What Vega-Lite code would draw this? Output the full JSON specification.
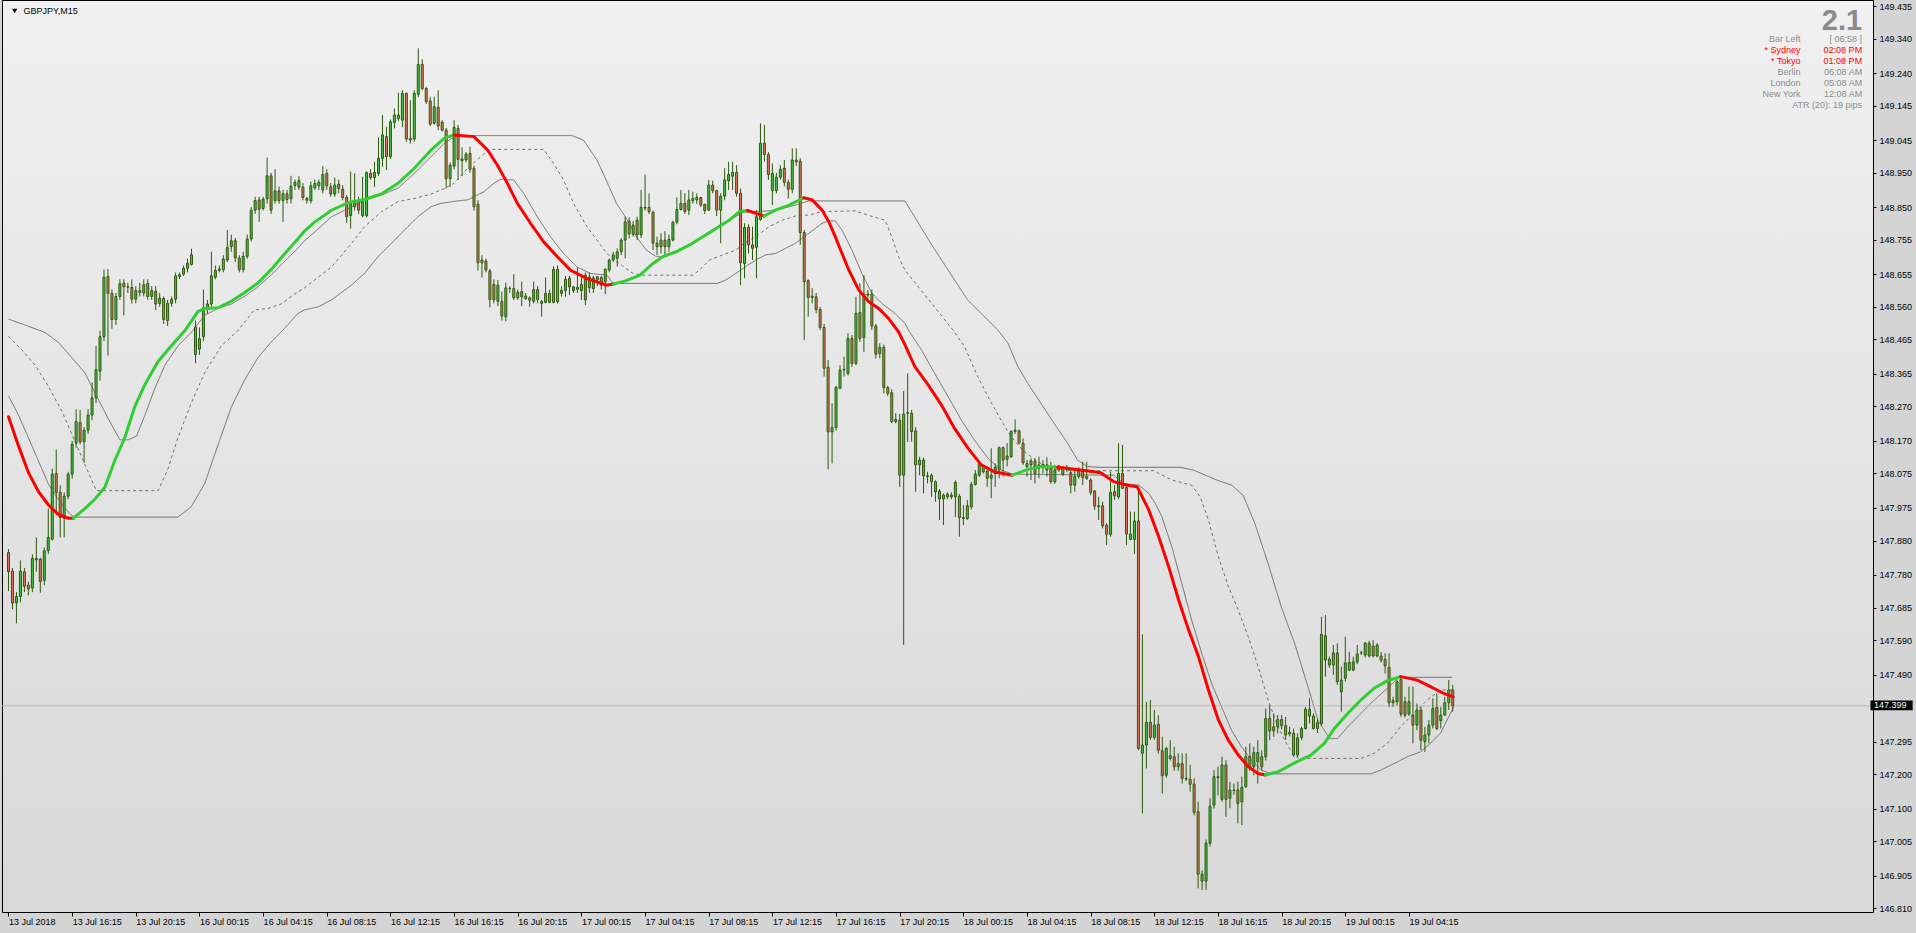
{
"$schema":"https://vega.github.io/schema/vega-lite/v6.json",
"width":1871,"height":912,"autosize":"none",
"padding":{"left":2,"top":0,"right":43,"bottom":21},
"background":"#d4d4d4",
"config":{
"view":{"fill":{"gradient":"linear","x1":0,"y1":0,"x2":0,"y2":1,"stops":[{"offset":0,"color":"#f0f0f0"},{"offset":1,"color":"#d8d8d8"}]},"stroke":"#000000","strokeWidth":1},
"font":"Liberation Sans",
"axis":{"title":null,"grid":false,"domain":false,"labelFont":"Liberation Sans","labelFontSize":9,"labelColor":"#000000","tickColor":"#000000","tickWidth":1,"labelOverlap":false,"labelBound":false,"labelFlush":false}
},
"resolve":{"axis":{"x":"independent","y":"independent"}},
"datasets":{
"candles":[
{"i":0,"o":147.845,"h":147.855,"l":147.733,"c":147.789},
{"i":1,"o":147.791,"h":147.800,"l":147.680,"c":147.698},
{"i":2,"o":147.698,"h":147.730,"l":147.639,"c":147.717},
{"i":3,"o":147.717,"h":147.822,"l":147.700,"c":147.791},
{"i":4,"o":147.789,"h":147.800,"l":147.730,"c":147.747},
{"i":5,"o":147.750,"h":147.760,"l":147.720,"c":147.739},
{"i":6,"o":147.742,"h":147.840,"l":147.730,"c":147.828},
{"i":7,"o":147.824,"h":147.889,"l":147.789,"c":147.828},
{"i":8,"o":147.826,"h":147.830,"l":147.728,"c":147.761},
{"i":9,"o":147.764,"h":147.860,"l":147.750,"c":147.850},
{"i":10,"o":147.850,"h":147.973,"l":147.840,"c":147.889},
{"i":11,"o":147.884,"h":148.089,"l":147.880,"c":148.073},
{"i":12,"o":148.075,"h":148.145,"l":147.956,"c":148.020},
{"i":13,"o":148.020,"h":148.040,"l":147.889,"c":147.947},
{"i":14,"o":147.945,"h":148.020,"l":147.889,"c":148.009},
{"i":15,"o":148.009,"h":148.080,"l":148.000,"c":148.073},
{"i":16,"o":148.073,"h":148.170,"l":148.060,"c":148.160},
{"i":17,"o":148.164,"h":148.262,"l":148.150,"c":148.226},
{"i":18,"o":148.223,"h":148.260,"l":148.160,"c":148.167},
{"i":19,"o":148.167,"h":148.210,"l":148.106,"c":148.201},
{"i":20,"o":148.201,"h":148.262,"l":148.190,"c":148.245},
{"i":21,"o":148.245,"h":148.340,"l":148.230,"c":148.295},
{"i":22,"o":148.295,"h":148.446,"l":148.280,"c":148.377},
{"i":23,"o":148.373,"h":148.490,"l":148.345,"c":148.473},
{"i":24,"o":148.473,"h":148.668,"l":148.460,"c":148.646},
{"i":25,"o":148.648,"h":148.670,"l":148.418,"c":148.599},
{"i":26,"o":148.599,"h":148.610,"l":148.496,"c":148.523},
{"i":27,"o":148.523,"h":148.600,"l":148.507,"c":148.590},
{"i":28,"o":148.590,"h":148.640,"l":148.580,"c":148.627},
{"i":29,"o":148.629,"h":148.640,"l":148.535,"c":148.618},
{"i":30,"o":148.618,"h":148.630,"l":148.600,"c":148.617},
{"i":31,"o":148.616,"h":148.640,"l":148.570,"c":148.582},
{"i":32,"o":148.582,"h":148.620,"l":148.570,"c":148.607},
{"i":33,"o":148.602,"h":148.630,"l":148.590,"c":148.607},
{"i":34,"o":148.600,"h":148.640,"l":148.590,"c":148.624},
{"i":35,"o":148.628,"h":148.640,"l":148.580,"c":148.590},
{"i":36,"o":148.590,"h":148.620,"l":148.580,"c":148.607},
{"i":37,"o":148.605,"h":148.620,"l":148.550,"c":148.568},
{"i":38,"o":148.570,"h":148.600,"l":148.560,"c":148.585},
{"i":39,"o":148.584,"h":148.590,"l":148.510,"c":148.523},
{"i":40,"o":148.520,"h":148.580,"l":148.504,"c":148.570},
{"i":41,"o":148.570,"h":148.590,"l":148.560,"c":148.582},
{"i":42,"o":148.582,"h":148.660,"l":148.570,"c":148.650},
{"i":43,"o":148.648,"h":148.660,"l":148.640,"c":148.653},
{"i":44,"o":148.655,"h":148.680,"l":148.650,"c":148.672},
{"i":45,"o":148.672,"h":148.700,"l":148.660,"c":148.687},
{"i":46,"o":148.683,"h":148.729,"l":148.680,"c":148.711},
{"i":47,"o":148.501,"h":148.520,"l":148.396,"c":148.421},
{"i":48,"o":148.437,"h":148.500,"l":148.420,"c":148.467},
{"i":49,"o":148.473,"h":148.610,"l":148.460,"c":148.557},
{"i":50,"o":148.557,"h":148.580,"l":148.540,"c":148.568},
{"i":51,"o":148.568,"h":148.720,"l":148.560,"c":148.650},
{"i":52,"o":148.646,"h":148.680,"l":148.640,"c":148.666},
{"i":53,"o":148.666,"h":148.680,"l":148.660,"c":148.670},
{"i":54,"o":148.668,"h":148.710,"l":148.660,"c":148.699},
{"i":55,"o":148.696,"h":148.783,"l":148.690,"c":148.732},
{"i":56,"o":148.735,"h":148.770,"l":148.720,"c":148.752},
{"i":57,"o":148.752,"h":148.760,"l":148.690,"c":148.702},
{"i":58,"o":148.702,"h":148.710,"l":148.660,"c":148.668},
{"i":59,"o":148.668,"h":148.720,"l":148.660,"c":148.707},
{"i":60,"o":148.707,"h":148.770,"l":148.700,"c":148.757},
{"i":61,"o":148.757,"h":148.850,"l":148.750,"c":148.841},
{"i":62,"o":148.841,"h":148.880,"l":148.830,"c":148.869},
{"i":63,"o":148.871,"h":148.880,"l":148.807,"c":148.844},
{"i":64,"o":148.846,"h":148.880,"l":148.840,"c":148.873},
{"i":65,"o":148.874,"h":148.994,"l":148.860,"c":148.941},
{"i":66,"o":148.941,"h":148.950,"l":148.830,"c":148.841},
{"i":67,"o":148.869,"h":148.960,"l":148.860,"c":148.897},
{"i":68,"o":148.897,"h":148.910,"l":148.860,"c":148.869},
{"i":69,"o":148.869,"h":148.900,"l":148.807,"c":148.889},
{"i":70,"o":148.889,"h":148.900,"l":148.860,"c":148.872},
{"i":71,"o":148.874,"h":148.941,"l":148.860,"c":148.911},
{"i":72,"o":148.913,"h":148.930,"l":148.900,"c":148.922},
{"i":73,"o":148.908,"h":148.940,"l":148.900,"c":148.927},
{"i":74,"o":148.908,"h":148.920,"l":148.870,"c":148.878},
{"i":75,"o":148.875,"h":148.880,"l":148.860,"c":148.870},
{"i":76,"o":148.868,"h":148.924,"l":148.860,"c":148.912},
{"i":77,"o":148.906,"h":148.930,"l":148.900,"c":148.919},
{"i":78,"o":148.912,"h":148.930,"l":148.900,"c":148.922},
{"i":79,"o":148.900,"h":148.969,"l":148.890,"c":148.945},
{"i":80,"o":148.948,"h":148.960,"l":148.900,"c":148.912},
{"i":81,"o":148.909,"h":148.920,"l":148.880,"c":148.888},
{"i":82,"o":148.888,"h":148.936,"l":148.880,"c":148.914},
{"i":83,"o":148.917,"h":148.930,"l":148.890,"c":148.904},
{"i":84,"o":148.902,"h":148.914,"l":148.870,"c":148.878},
{"i":85,"o":148.878,"h":148.885,"l":148.804,"c":148.822},
{"i":86,"o":148.825,"h":148.953,"l":148.788,"c":148.861},
{"i":87,"o":148.851,"h":148.948,"l":148.840,"c":148.869},
{"i":88,"o":148.866,"h":148.880,"l":148.830,"c":148.841},
{"i":89,"o":148.825,"h":148.938,"l":148.820,"c":148.866},
{"i":90,"o":148.825,"h":148.953,"l":148.820,"c":148.951},
{"i":91,"o":148.948,"h":148.960,"l":148.930,"c":148.936},
{"i":92,"o":148.936,"h":148.982,"l":148.909,"c":148.951},
{"i":93,"o":148.948,"h":149.053,"l":148.940,"c":148.992},
{"i":94,"o":148.992,"h":149.118,"l":148.967,"c":149.060},
{"i":95,"o":149.055,"h":149.084,"l":148.958,"c":148.997},
{"i":96,"o":148.997,"h":149.105,"l":148.990,"c":149.098},
{"i":97,"o":149.096,"h":149.137,"l":149.079,"c":149.118},
{"i":98,"o":149.108,"h":149.183,"l":149.100,"c":149.118},
{"i":99,"o":149.103,"h":149.190,"l":149.082,"c":149.181},
{"i":100,"o":149.181,"h":149.183,"l":149.040,"c":149.048},
{"i":101,"o":149.050,"h":149.161,"l":149.035,"c":149.045},
{"i":102,"o":149.048,"h":149.190,"l":149.040,"c":149.181},
{"i":103,"o":149.178,"h":149.312,"l":149.170,"c":149.265},
{"i":104,"o":149.265,"h":149.280,"l":149.190,"c":149.195},
{"i":105,"o":149.195,"h":149.200,"l":149.150,"c":149.157},
{"i":106,"o":149.159,"h":149.171,"l":149.086,"c":149.091},
{"i":107,"o":149.094,"h":149.171,"l":149.090,"c":149.142},
{"i":108,"o":149.140,"h":149.190,"l":149.074,"c":149.086},
{"i":109,"o":149.097,"h":149.103,"l":149.070,"c":149.074},
{"i":110,"o":149.074,"h":149.080,"l":148.904,"c":148.933},
{"i":111,"o":148.933,"h":148.980,"l":148.909,"c":148.972},
{"i":112,"o":148.969,"h":149.103,"l":148.960,"c":149.082},
{"i":113,"o":149.079,"h":149.089,"l":148.929,"c":148.989},
{"i":114,"o":148.990,"h":149.024,"l":148.940,"c":148.985},
{"i":115,"o":148.987,"h":149.010,"l":148.980,"c":149.004},
{"i":116,"o":149.006,"h":149.026,"l":148.950,"c":148.960},
{"i":117,"o":148.963,"h":148.970,"l":148.840,"c":148.851},
{"i":118,"o":148.858,"h":148.870,"l":148.665,"c":148.688},
{"i":119,"o":148.688,"h":148.710,"l":148.645,"c":148.696},
{"i":120,"o":148.693,"h":148.700,"l":148.660,"c":148.667},
{"i":121,"o":148.664,"h":148.670,"l":148.558,"c":148.581},
{"i":122,"o":148.625,"h":148.640,"l":148.570,"c":148.580},
{"i":123,"o":148.576,"h":148.638,"l":148.562,"c":148.623},
{"i":124,"o":148.576,"h":148.604,"l":148.520,"c":148.533},
{"i":125,"o":148.531,"h":148.630,"l":148.518,"c":148.615},
{"i":126,"o":148.613,"h":148.620,"l":148.600,"c":148.613},
{"i":127,"o":148.613,"h":148.655,"l":148.580,"c":148.586},
{"i":128,"o":148.586,"h":148.610,"l":148.580,"c":148.602},
{"i":129,"o":148.604,"h":148.633,"l":148.562,"c":148.589},
{"i":130,"o":148.584,"h":148.600,"l":148.580,"c":148.591},
{"i":131,"o":148.586,"h":148.590,"l":148.560,"c":148.579},
{"i":132,"o":148.576,"h":148.633,"l":148.570,"c":148.610},
{"i":133,"o":148.610,"h":148.620,"l":148.570,"c":148.581},
{"i":134,"o":148.570,"h":148.580,"l":148.531,"c":148.575},
{"i":135,"o":148.573,"h":148.645,"l":148.570,"c":148.599},
{"i":136,"o":148.599,"h":148.610,"l":148.570,"c":148.573},
{"i":137,"o":148.573,"h":148.678,"l":148.570,"c":148.669},
{"i":138,"o":148.669,"h":148.680,"l":148.570,"c":148.575},
{"i":139,"o":148.599,"h":148.620,"l":148.590,"c":148.608},
{"i":140,"o":148.607,"h":148.650,"l":148.589,"c":148.640},
{"i":141,"o":148.643,"h":148.650,"l":148.594,"c":148.618},
{"i":142,"o":148.618,"h":148.620,"l":148.600,"c":148.607},
{"i":143,"o":148.611,"h":148.674,"l":148.600,"c":148.616},
{"i":144,"o":148.607,"h":148.647,"l":148.580,"c":148.625},
{"i":145,"o":148.652,"h":148.660,"l":148.565,"c":148.580},
{"i":146,"o":148.616,"h":148.660,"l":148.600,"c":148.647},
{"i":147,"o":148.613,"h":148.650,"l":148.600,"c":148.644},
{"i":148,"o":148.647,"h":148.650,"l":148.620,"c":148.638},
{"i":149,"o":148.645,"h":148.650,"l":148.610,"c":148.623},
{"i":150,"o":148.633,"h":148.672,"l":148.597,"c":148.669},
{"i":151,"o":148.667,"h":148.700,"l":148.660,"c":148.696},
{"i":152,"o":148.696,"h":148.720,"l":148.690,"c":148.711},
{"i":153,"o":148.701,"h":148.730,"l":148.677,"c":148.720},
{"i":154,"o":148.720,"h":148.760,"l":148.710,"c":148.754},
{"i":155,"o":148.754,"h":148.822,"l":148.701,"c":148.807},
{"i":156,"o":148.809,"h":148.820,"l":148.759,"c":148.772},
{"i":157,"o":148.771,"h":148.810,"l":148.764,"c":148.798},
{"i":158,"o":148.812,"h":148.822,"l":148.754,"c":148.769},
{"i":159,"o":148.769,"h":148.900,"l":148.760,"c":148.849},
{"i":160,"o":148.847,"h":148.945,"l":148.840,"c":148.849},
{"i":161,"o":148.849,"h":148.890,"l":148.830,"c":148.837},
{"i":162,"o":148.835,"h":148.840,"l":148.725,"c":148.745},
{"i":163,"o":148.745,"h":148.764,"l":148.710,"c":148.735},
{"i":164,"o":148.735,"h":148.774,"l":148.715,"c":148.754},
{"i":165,"o":148.754,"h":148.780,"l":148.706,"c":148.735},
{"i":166,"o":148.735,"h":148.770,"l":148.720,"c":148.756},
{"i":167,"o":148.754,"h":148.810,"l":148.750,"c":148.806},
{"i":168,"o":148.806,"h":148.878,"l":148.800,"c":148.843},
{"i":169,"o":148.843,"h":148.900,"l":148.840,"c":148.861},
{"i":170,"o":148.861,"h":148.890,"l":148.830,"c":148.837},
{"i":171,"o":148.841,"h":148.900,"l":148.827,"c":148.871},
{"i":172,"o":148.869,"h":148.895,"l":148.860,"c":148.875},
{"i":173,"o":148.871,"h":148.890,"l":148.859,"c":148.878},
{"i":174,"o":148.878,"h":148.880,"l":148.850,"c":148.856},
{"i":175,"o":148.858,"h":148.860,"l":148.830,"c":148.840},
{"i":176,"o":148.841,"h":148.929,"l":148.840,"c":148.914},
{"i":177,"o":148.914,"h":148.927,"l":148.890,"c":148.898},
{"i":178,"o":148.898,"h":148.900,"l":148.824,"c":148.841},
{"i":179,"o":148.841,"h":148.890,"l":148.745,"c":148.882},
{"i":180,"o":148.882,"h":148.963,"l":148.870,"c":148.929},
{"i":181,"o":148.927,"h":148.982,"l":148.900,"c":148.945},
{"i":182,"o":148.940,"h":148.982,"l":148.900,"c":148.951},
{"i":183,"o":148.951,"h":148.972,"l":148.880,"c":148.890},
{"i":184,"o":148.890,"h":148.904,"l":148.623,"c":148.688},
{"i":185,"o":148.686,"h":148.803,"l":148.643,"c":148.791},
{"i":186,"o":148.791,"h":148.800,"l":148.715,"c":148.740},
{"i":187,"o":148.740,"h":148.793,"l":148.696,"c":148.730},
{"i":188,"o":148.733,"h":148.841,"l":148.643,"c":148.822},
{"i":189,"o":148.814,"h":149.094,"l":148.810,"c":149.036},
{"i":190,"o":149.036,"h":149.089,"l":148.982,"c":149.003},
{"i":191,"o":149.003,"h":149.010,"l":148.929,"c":148.945},
{"i":192,"o":148.898,"h":148.977,"l":148.856,"c":148.948},
{"i":193,"o":148.898,"h":148.950,"l":148.890,"c":148.937},
{"i":194,"o":148.937,"h":148.972,"l":148.930,"c":148.960},
{"i":195,"o":148.963,"h":148.987,"l":148.910,"c":148.922},
{"i":196,"o":148.922,"h":148.930,"l":148.875,"c":148.902},
{"i":197,"o":148.902,"h":149.021,"l":148.890,"c":148.987},
{"i":198,"o":148.987,"h":149.021,"l":148.970,"c":148.982},
{"i":199,"o":148.984,"h":148.992,"l":148.740,"c":148.776},
{"i":200,"o":148.776,"h":148.783,"l":148.463,"c":148.633},
{"i":201,"o":148.636,"h":148.640,"l":148.531,"c":148.587},
{"i":202,"o":148.591,"h":148.614,"l":148.570,"c":148.587},
{"i":203,"o":148.589,"h":148.600,"l":148.541,"c":148.552},
{"i":204,"o":148.552,"h":148.560,"l":148.492,"c":148.500},
{"i":205,"o":148.500,"h":148.510,"l":148.357,"c":148.381},
{"i":206,"o":148.384,"h":148.405,"l":148.087,"c":148.196},
{"i":207,"o":148.196,"h":148.279,"l":148.104,"c":148.209},
{"i":208,"o":148.209,"h":148.330,"l":148.200,"c":148.325},
{"i":209,"o":148.323,"h":148.390,"l":148.320,"c":148.376},
{"i":210,"o":148.376,"h":148.415,"l":148.357,"c":148.378},
{"i":211,"o":148.366,"h":148.483,"l":148.360,"c":148.468},
{"i":212,"o":148.468,"h":148.478,"l":148.385,"c":148.395},
{"i":213,"o":148.395,"h":148.589,"l":148.390,"c":148.541},
{"i":214,"o":148.543,"h":148.628,"l":148.458,"c":148.468},
{"i":215,"o":148.470,"h":148.652,"l":148.429,"c":148.597},
{"i":216,"o":148.597,"h":148.609,"l":148.584,"c":148.594},
{"i":217,"o":148.597,"h":148.610,"l":148.492,"c":148.504},
{"i":218,"o":148.504,"h":148.510,"l":148.410,"c":148.422},
{"i":219,"o":148.424,"h":148.454,"l":148.410,"c":148.442},
{"i":220,"o":148.442,"h":148.450,"l":148.308,"c":148.325},
{"i":221,"o":148.325,"h":148.330,"l":148.300,"c":148.308},
{"i":222,"o":148.310,"h":148.320,"l":148.221,"c":148.226},
{"i":223,"o":148.226,"h":148.250,"l":148.221,"c":148.232},
{"i":224,"o":148.230,"h":148.248,"l":148.036,"c":148.070},
{"i":225,"o":148.070,"h":148.315,"l":147.576,"c":148.248},
{"i":226,"o":148.250,"h":148.366,"l":148.167,"c":148.252},
{"i":227,"o":148.250,"h":148.260,"l":148.167,"c":148.197},
{"i":228,"o":148.199,"h":148.210,"l":148.022,"c":148.100},
{"i":229,"o":148.100,"h":148.124,"l":148.070,"c":148.114},
{"i":230,"o":148.114,"h":148.121,"l":148.017,"c":148.068},
{"i":231,"o":148.068,"h":148.080,"l":148.046,"c":148.066},
{"i":232,"o":148.070,"h":148.075,"l":148.007,"c":148.051},
{"i":233,"o":148.051,"h":148.055,"l":147.993,"c":148.022},
{"i":234,"o":148.024,"h":148.030,"l":147.940,"c":148.001},
{"i":235,"o":148.001,"h":148.017,"l":147.925,"c":148.012},
{"i":236,"o":148.007,"h":148.020,"l":148.000,"c":148.015},
{"i":237,"o":148.007,"h":148.020,"l":148.000,"c":148.012},
{"i":238,"o":148.007,"h":148.055,"l":147.949,"c":148.049},
{"i":239,"o":148.009,"h":148.015,"l":147.891,"c":147.947},
{"i":240,"o":147.947,"h":147.983,"l":147.925,"c":147.944},
{"i":241,"o":147.944,"h":147.998,"l":147.940,"c":147.981},
{"i":242,"o":147.978,"h":148.050,"l":147.970,"c":148.043},
{"i":243,"o":148.043,"h":148.085,"l":148.040,"c":148.073},
{"i":244,"o":148.070,"h":148.110,"l":148.065,"c":148.104},
{"i":245,"o":148.080,"h":148.100,"l":148.075,"c":148.095},
{"i":246,"o":148.082,"h":148.090,"l":148.036,"c":148.061},
{"i":247,"o":148.061,"h":148.148,"l":148.003,"c":148.070},
{"i":248,"o":148.075,"h":148.104,"l":148.036,"c":148.093},
{"i":249,"o":148.085,"h":148.153,"l":148.061,"c":148.150},
{"i":250,"o":148.150,"h":148.153,"l":148.066,"c":148.114},
{"i":251,"o":148.116,"h":148.163,"l":148.095,"c":148.126},
{"i":252,"o":148.124,"h":148.201,"l":148.120,"c":148.197},
{"i":253,"o":148.197,"h":148.232,"l":148.190,"c":148.201},
{"i":254,"o":148.199,"h":148.203,"l":148.160,"c":148.164},
{"i":255,"o":148.163,"h":148.177,"l":148.100,"c":148.106},
{"i":256,"o":148.095,"h":148.114,"l":148.066,"c":148.104},
{"i":257,"o":148.100,"h":148.119,"l":148.056,"c":148.112},
{"i":258,"o":148.111,"h":148.119,"l":148.046,"c":148.075},
{"i":259,"o":148.090,"h":148.124,"l":148.061,"c":148.100},
{"i":260,"o":148.095,"h":148.114,"l":148.075,"c":148.101},
{"i":261,"o":148.100,"h":148.122,"l":148.066,"c":148.085},
{"i":262,"o":148.090,"h":148.109,"l":148.045,"c":148.051},
{"i":263,"o":148.051,"h":148.100,"l":148.045,"c":148.085},
{"i":264,"o":148.097,"h":148.100,"l":148.080,"c":148.085},
{"i":265,"o":148.073,"h":148.097,"l":148.068,"c":148.093},
{"i":266,"o":148.087,"h":148.100,"l":148.080,"c":148.093},
{"i":267,"o":148.077,"h":148.085,"l":148.017,"c":148.041},
{"i":268,"o":148.041,"h":148.085,"l":148.022,"c":148.066},
{"i":269,"o":148.066,"h":148.093,"l":148.060,"c":148.083},
{"i":270,"o":148.083,"h":148.109,"l":148.041,"c":148.063},
{"i":271,"o":148.066,"h":148.109,"l":148.056,"c":148.061},
{"i":272,"o":148.056,"h":148.061,"l":148.012,"c":148.020},
{"i":273,"o":148.024,"h":148.027,"l":147.969,"c":147.980},
{"i":274,"o":147.981,"h":148.007,"l":147.940,"c":147.978},
{"i":275,"o":147.981,"h":147.993,"l":147.915,"c":147.923},
{"i":276,"o":147.925,"h":147.930,"l":147.867,"c":147.898},
{"i":277,"o":147.898,"h":148.080,"l":147.891,"c":148.020},
{"i":278,"o":148.022,"h":148.041,"l":147.998,"c":148.010},
{"i":279,"o":148.007,"h":148.163,"l":148.000,"c":148.075},
{"i":280,"o":148.075,"h":148.158,"l":148.030,"c":148.032},
{"i":281,"o":148.034,"h":148.046,"l":147.867,"c":147.899},
{"i":282,"o":147.883,"h":147.964,"l":147.881,"c":147.899},
{"i":283,"o":147.883,"h":147.964,"l":147.841,"c":147.937},
{"i":284,"o":147.937,"h":148.027,"l":147.270,"c":147.275},
{"i":285,"o":147.261,"h":147.607,"l":147.086,"c":147.285},
{"i":286,"o":147.285,"h":147.411,"l":147.217,"c":147.351},
{"i":287,"o":147.351,"h":147.416,"l":147.300,"c":147.307},
{"i":288,"o":147.307,"h":147.387,"l":147.300,"c":147.343},
{"i":289,"o":147.345,"h":147.372,"l":147.260,"c":147.270},
{"i":290,"o":147.268,"h":147.309,"l":147.144,"c":147.196},
{"i":291,"o":147.197,"h":147.280,"l":147.190,"c":147.275},
{"i":292,"o":147.246,"h":147.299,"l":147.240,"c":147.254},
{"i":293,"o":147.251,"h":147.280,"l":147.210,"c":147.222},
{"i":294,"o":147.222,"h":147.261,"l":147.210,"c":147.231},
{"i":295,"o":147.231,"h":147.261,"l":147.173,"c":147.188},
{"i":296,"o":147.188,"h":147.261,"l":147.180,"c":147.186},
{"i":297,"o":147.185,"h":147.227,"l":147.149,"c":147.171},
{"i":298,"o":147.171,"h":147.188,"l":147.080,"c":147.089},
{"i":299,"o":147.091,"h":147.120,"l":146.868,"c":146.909},
{"i":300,"o":146.889,"h":146.920,"l":146.863,"c":146.909},
{"i":301,"o":146.889,"h":147.010,"l":146.863,"c":146.999},
{"i":302,"o":146.999,"h":147.130,"l":146.990,"c":147.107},
{"i":303,"o":147.110,"h":147.212,"l":147.100,"c":147.193},
{"i":304,"o":147.190,"h":147.222,"l":147.139,"c":147.193},
{"i":305,"o":147.127,"h":147.251,"l":147.120,"c":147.227},
{"i":306,"o":147.227,"h":147.241,"l":147.076,"c":147.127},
{"i":307,"o":147.130,"h":147.178,"l":147.101,"c":147.154},
{"i":308,"o":147.154,"h":147.173,"l":147.140,"c":147.153},
{"i":309,"o":147.154,"h":147.178,"l":147.057,"c":147.115},
{"i":310,"o":147.120,"h":147.193,"l":147.052,"c":147.162},
{"i":311,"o":147.164,"h":147.280,"l":147.160,"c":147.251},
{"i":312,"o":147.251,"h":147.290,"l":147.210,"c":147.220},
{"i":313,"o":147.222,"h":147.280,"l":147.197,"c":147.263},
{"i":314,"o":147.236,"h":147.299,"l":147.173,"c":147.263},
{"i":315,"o":147.251,"h":147.270,"l":147.212,"c":147.222},
{"i":316,"o":147.251,"h":147.391,"l":147.240,"c":147.362},
{"i":317,"o":147.362,"h":147.401,"l":147.299,"c":147.326},
{"i":318,"o":147.326,"h":147.377,"l":147.309,"c":147.338},
{"i":319,"o":147.338,"h":147.372,"l":147.319,"c":147.359},
{"i":320,"o":147.359,"h":147.372,"l":147.330,"c":147.341},
{"i":321,"o":147.341,"h":147.367,"l":147.300,"c":147.314},
{"i":322,"o":147.317,"h":147.338,"l":147.310,"c":147.322},
{"i":323,"o":147.319,"h":147.333,"l":147.251,"c":147.256},
{"i":324,"o":147.256,"h":147.319,"l":147.250,"c":147.306},
{"i":325,"o":147.307,"h":147.338,"l":147.300,"c":147.333},
{"i":326,"o":147.333,"h":147.396,"l":147.330,"c":147.389},
{"i":327,"o":147.389,"h":147.421,"l":147.348,"c":147.369},
{"i":328,"o":147.369,"h":147.377,"l":147.330,"c":147.333},
{"i":329,"o":147.333,"h":147.360,"l":147.320,"c":147.350},
{"i":330,"o":147.348,"h":147.658,"l":147.340,"c":147.607},
{"i":331,"o":147.603,"h":147.663,"l":147.484,"c":147.532},
{"i":332,"o":147.518,"h":147.542,"l":147.510,"c":147.535},
{"i":333,"o":147.518,"h":147.576,"l":147.489,"c":147.553},
{"i":334,"o":147.553,"h":147.581,"l":147.460,"c":147.469},
{"i":335,"o":147.440,"h":147.513,"l":147.382,"c":147.474},
{"i":336,"o":147.479,"h":147.600,"l":147.470,"c":147.524},
{"i":337,"o":147.503,"h":147.556,"l":147.500,"c":147.525},
{"i":338,"o":147.503,"h":147.542,"l":147.500,"c":147.527},
{"i":339,"o":147.527,"h":147.576,"l":147.520,"c":147.550},
{"i":340,"o":147.553,"h":147.559,"l":147.547,"c":147.553},
{"i":341,"o":147.547,"h":147.585,"l":147.540,"c":147.581},
{"i":342,"o":147.544,"h":147.588,"l":147.540,"c":147.581},
{"i":343,"o":147.573,"h":147.590,"l":147.540,"c":147.544},
{"i":344,"o":147.544,"h":147.581,"l":147.540,"c":147.576},
{"i":345,"o":147.544,"h":147.556,"l":147.525,"c":147.532},
{"i":346,"o":147.534,"h":147.552,"l":147.493,"c":147.515},
{"i":347,"o":147.511,"h":147.552,"l":147.396,"c":147.408},
{"i":348,"o":147.414,"h":147.425,"l":147.396,"c":147.408},
{"i":349,"o":147.411,"h":147.474,"l":147.400,"c":147.469},
{"i":350,"o":147.476,"h":147.484,"l":147.367,"c":147.375},
{"i":351,"o":147.411,"h":147.425,"l":147.365,"c":147.372},
{"i":352,"o":147.375,"h":147.455,"l":147.370,"c":147.411},
{"i":353,"o":147.372,"h":147.455,"l":147.290,"c":147.343},
{"i":354,"o":147.343,"h":147.406,"l":147.328,"c":147.387},
{"i":355,"o":147.387,"h":147.396,"l":147.270,"c":147.299},
{"i":356,"o":147.295,"h":147.338,"l":147.265,"c":147.314},
{"i":357,"o":147.314,"h":147.358,"l":147.290,"c":147.343},
{"i":358,"o":147.343,"h":147.421,"l":147.333,"c":147.391},
{"i":359,"o":147.394,"h":147.435,"l":147.328,"c":147.333},
{"i":360,"o":147.356,"h":147.396,"l":147.333,"c":147.372},
{"i":361,"o":147.372,"h":147.425,"l":147.370,"c":147.408},
{"i":362,"o":147.408,"h":147.474,"l":147.387,"c":147.445},
{"i":363,"o":147.445,"h":147.460,"l":147.382,"c":147.399}
],
"ma":[
{"s":1,"d":"dn","i":0,"v":148.240},{"s":1,"d":"dn","i":2.5,"v":148.156},{"s":1,"d":"dn","i":5,"v":148.078},{"s":1,"d":"dn","i":7.5,"v":148.023},{"s":1,"d":"dn","i":10,"v":147.984},{"s":1,"d":"dn","i":12.5,"v":147.956},{"s":1,"d":"dn","i":15,"v":147.945},{"s":1,"d":"dn","i":16.3,"v":147.945},
{"s":2,"d":"up","i":16.3,"v":147.945},{"s":2,"d":"up","i":19.2,"v":147.973},{"s":2,"d":"up","i":21.7,"v":148.000},{"s":2,"d":"up","i":24.2,"v":148.034},{"s":2,"d":"up","i":26.7,"v":148.112},{"s":2,"d":"up","i":29.2,"v":148.178},{"s":2,"d":"up","i":31.7,"v":148.268},{"s":2,"d":"up","i":34.3,"v":148.334},{"s":2,"d":"up","i":37.6,"v":148.401},{"s":2,"d":"up","i":40.9,"v":148.446},{"s":2,"d":"up","i":44.3,"v":148.490},{"s":2,"d":"up","i":47.6,"v":148.546},{"s":2,"d":"up","i":49.3,"v":148.554},{"s":2,"d":"up","i":52.6,"v":148.557},{"s":2,"d":"up","i":56,"v":148.576},{"s":2,"d":"up","i":59.3,"v":148.601},{"s":2,"d":"up","i":62.7,"v":148.629},{"s":2,"d":"up","i":66,"v":148.668},{"s":2,"d":"up","i":69.3,"v":148.713},{"s":2,"d":"up","i":72.7,"v":148.757},{"s":2,"d":"up","i":74.4,"v":148.780},{"s":2,"d":"up","i":77.0,"v":148.807},{"s":2,"d":"up","i":81.2,"v":148.841},{"s":2,"d":"up","i":85.4,"v":148.863},{"s":2,"d":"up","i":89.5,"v":148.872},{"s":2,"d":"up","i":93.7,"v":148.888},{"s":2,"d":"up","i":97.9,"v":148.919},{"s":2,"d":"up","i":102.0,"v":148.963},{"s":2,"d":"up","i":106.2,"v":149.016},{"s":2,"d":"up","i":109.5,"v":149.050},{"s":2,"d":"up","i":112.0,"v":149.060},
{"s":3,"d":"dn","i":112.0,"v":149.060},{"s":3,"d":"dn","i":117.0,"v":149.055},{"s":3,"d":"dn","i":120.4,"v":149.016},{"s":3,"d":"dn","i":122.9,"v":148.972},{"s":3,"d":"dn","i":125.4,"v":148.919},{"s":3,"d":"dn","i":127.9,"v":148.861},{"s":3,"d":"dn","i":131.2,"v":148.803},{"s":3,"d":"dn","i":134.5,"v":148.749},{"s":3,"d":"dn","i":137.9,"v":148.706},{"s":3,"d":"dn","i":141.2,"v":148.667},{"s":3,"d":"dn","i":145.4,"v":148.642},{"s":3,"d":"dn","i":150.4,"v":148.623},{"s":3,"d":"dn","i":152,"v":148.626},
{"s":4,"d":"up","i":152,"v":148.626},{"s":4,"d":"up","i":155.3,"v":148.636},{"s":4,"d":"up","i":158.7,"v":148.652},{"s":4,"d":"up","i":162,"v":148.686},{"s":4,"d":"up","i":164.5,"v":148.706},{"s":4,"d":"up","i":167.8,"v":148.720},{"s":4,"d":"up","i":171.2,"v":148.740},{"s":4,"d":"up","i":174.5,"v":148.764},{"s":4,"d":"up","i":177.8,"v":148.788},{"s":4,"d":"up","i":181.2,"v":148.812},{"s":4,"d":"up","i":183.7,"v":148.837},{"s":4,"d":"up","i":185.75,"v":148.840},
{"s":5,"d":"dn","i":185.75,"v":148.840},{"s":5,"d":"dn","i":189.9,"v":148.824},
{"s":6,"d":"up","i":189.9,"v":148.824},{"s":6,"d":"up","i":192.8,"v":148.841},{"s":6,"d":"up","i":196.2,"v":148.856},{"s":6,"d":"up","i":199.9,"v":148.877},
{"s":7,"d":"dn","i":199.9,"v":148.877},{"s":7,"d":"dn","i":202,"v":148.871},{"s":7,"d":"dn","i":204.5,"v":148.841},{"s":7,"d":"dn","i":206.2,"v":148.807},{"s":7,"d":"dn","i":207.8,"v":148.764},{"s":7,"d":"dn","i":209.5,"v":148.715},{"s":7,"d":"dn","i":211.2,"v":148.667},{"s":7,"d":"dn","i":213.7,"v":148.609},{"s":7,"d":"dn","i":216.2,"v":148.575},{"s":7,"d":"dn","i":218.7,"v":148.555},{"s":7,"d":"dn","i":221.2,"v":148.526},{"s":7,"d":"dn","i":223.7,"v":148.487},{"s":7,"d":"dn","i":225.3,"v":148.450},{"s":7,"d":"dn","i":227.8,"v":148.386},{"s":7,"d":"dn","i":231.2,"v":148.332},{"s":7,"d":"dn","i":234.5,"v":148.274},{"s":7,"d":"dn","i":237.8,"v":148.206},{"s":7,"d":"dn","i":241.2,"v":148.148},{"s":7,"d":"dn","i":244.5,"v":148.100},{"s":7,"d":"dn","i":247.8,"v":148.080},{"s":7,"d":"dn","i":252.25,"v":148.070},
{"s":8,"d":"up","i":252.25,"v":148.070},{"s":8,"d":"up","i":256.2,"v":148.087},{"s":8,"d":"up","i":259.5,"v":148.095},{"s":8,"d":"up","i":263.7,"v":148.093},
{"s":9,"d":"dn","i":263.7,"v":148.093},{"s":9,"d":"dn","i":269.5,"v":148.085},{"s":9,"d":"dn","i":274.5,"v":148.077},{"s":9,"d":"dn","i":277.8,"v":148.051},{"s":9,"d":"dn","i":281.2,"v":148.041},{"s":9,"d":"dn","i":283.7,"v":148.036},{"s":9,"d":"dn","i":286.6,"v":147.969},{"s":9,"d":"dn","i":289.1,"v":147.891},{"s":9,"d":"dn","i":291.6,"v":147.804},{"s":9,"d":"dn","i":294.1,"v":147.707},{"s":9,"d":"dn","i":296.6,"v":147.620},{"s":9,"d":"dn","i":299.1,"v":147.542},{"s":9,"d":"dn","i":301.6,"v":147.445},{"s":9,"d":"dn","i":304.1,"v":147.358},{"s":9,"d":"dn","i":306.6,"v":147.299},{"s":9,"d":"dn","i":309.1,"v":147.256},{"s":9,"d":"dn","i":311.6,"v":147.222},{"s":9,"d":"dn","i":314.1,"v":147.202},{"s":9,"d":"dn","i":315.9,"v":147.198},
{"s":10,"d":"up","i":315.9,"v":147.198},{"s":10,"d":"up","i":319.1,"v":147.207},{"s":10,"d":"up","i":323.25,"v":147.233},{"s":10,"d":"up","i":327.4,"v":147.256},{"s":10,"d":"up","i":330.75,"v":147.290},{"s":10,"d":"up","i":333.25,"v":147.333},{"s":10,"d":"up","i":336.6,"v":147.377},{"s":10,"d":"up","i":339.9,"v":147.416},{"s":10,"d":"up","i":343.25,"v":147.450},{"s":10,"d":"up","i":346.6,"v":147.472},{"s":10,"d":"up","i":349.9,"v":147.484},
{"s":11,"d":"dn","i":349.9,"v":147.484},{"s":11,"d":"dn","i":354.1,"v":147.474},{"s":11,"d":"dn","i":357.4,"v":147.455},{"s":11,"d":"dn","i":360.75,"v":147.435},{"s":11,"d":"dn","i":363.1,"v":147.425}
],
"bands":[
{"b":"A","i":0,"v":148.524},{"b":"A","i":4.2,"v":148.507},{"b":"A","i":9.2,"v":148.485},{"b":"A","i":12.5,"v":148.457},{"b":"A","i":15.9,"v":148.412},{"b":"A","i":19.2,"v":148.368},{"b":"A","i":22.1,"v":148.301},{"b":"A","i":25.1,"v":148.234},{"b":"A","i":28,"v":148.173},{"b":"A","i":30.1,"v":148.173},{"b":"A","i":32.2,"v":148.184},{"b":"A","i":34.3,"v":148.245},{"b":"A","i":36.8,"v":148.323},{"b":"A","i":39.3,"v":148.390},{"b":"A","i":42.6,"v":148.446},{"b":"A","i":45.9,"v":148.485},{"b":"A","i":49.3,"v":148.535},{"b":"A","i":52.6,"v":148.555},{"b":"A","i":56,"v":148.568},{"b":"A","i":59.3,"v":148.590},{"b":"A","i":62.7,"v":148.618},{"b":"A","i":66,"v":148.652},{"b":"A","i":69.3,"v":148.691},{"b":"A","i":72.7,"v":148.730},{"b":"A","i":74.4,"v":148.752},{"b":"A","i":77.0,"v":148.778},{"b":"A","i":81.2,"v":148.822},{"b":"A","i":85.4,"v":148.846},{"b":"A","i":89.5,"v":148.871},{"b":"A","i":93.7,"v":148.885},{"b":"A","i":97.9,"v":148.905},{"b":"A","i":102.0,"v":148.948},{"b":"A","i":106.2,"v":148.997},{"b":"A","i":109.5,"v":149.035},{"b":"A","i":112.0,"v":149.055},{"b":"A","i":116.2,"v":149.058},{"b":"A","i":141.6,"v":149.058},{"b":"A","i":144.5,"v":149.045},{"b":"A","i":147.9,"v":148.987},{"b":"A","i":150.4,"v":148.924},{"b":"A","i":152.8,"v":148.861},{"b":"A","i":155.3,"v":148.817},{"b":"A","i":157.8,"v":148.764},{"b":"A","i":160.3,"v":148.725},{"b":"A","i":162.8,"v":148.706},{"b":"A","i":165.3,"v":148.706},{"b":"A","i":168.7,"v":148.725},{"b":"A","i":172.8,"v":148.750},{"b":"A","i":177,"v":148.778},{"b":"A","i":181.2,"v":148.812},{"b":"A","i":184.5,"v":148.834},{"b":"A","i":187,"v":148.837},{"b":"A","i":191.2,"v":148.839},{"b":"A","i":194.5,"v":148.846},{"b":"A","i":197.8,"v":148.856},{"b":"A","i":201.2,"v":148.868},{"b":"A","i":225.3,"v":148.868},{"b":"A","i":232,"v":148.741},{"b":"A","i":241,"v":148.581},{"b":"A","i":248.7,"v":148.492},{"b":"A","i":251.2,"v":148.454},{"b":"A","i":253.7,"v":148.386},{"b":"A","i":256.2,"v":148.337},{"b":"A","i":259.5,"v":148.279},{"b":"A","i":262.8,"v":148.221},{"b":"A","i":266.2,"v":148.163},{"b":"A","i":268.7,"v":148.114},{"b":"A","i":271.2,"v":148.095},{"b":"A","i":274.5,"v":148.093},{"b":"A","i":294.5,"v":148.093},{"b":"A","i":297.8,"v":148.085},{"b":"A","i":303.7,"v":148.056},{"b":"A","i":307.4,"v":148.041},{"b":"A","i":310.3,"v":148.012},{"b":"A","i":313.25,"v":147.930},{"b":"A","i":316.6,"v":147.813},{"b":"A","i":319.9,"v":147.687},{"b":"A","i":323.25,"v":147.581},{"b":"A","i":326.6,"v":147.455},{"b":"A","i":329.1,"v":147.358},{"b":"A","i":332,"v":147.304},{"b":"A","i":334.1,"v":147.304},{"b":"A","i":336.6,"v":147.338},{"b":"A","i":339.9,"v":147.377},{"b":"A","i":343.25,"v":147.416},{"b":"A","i":346.6,"v":147.450},{"b":"A","i":349.5,"v":147.482},{"b":"A","i":362.8,"v":147.482},
{"b":"B","i":0,"v":148.474},{"b":"B","i":3.3,"v":148.435},{"b":"B","i":6.7,"v":148.390},{"b":"B","i":10,"v":148.329},{"b":"B","i":13.4,"v":148.257},{"b":"B","i":15.9,"v":148.190},{"b":"B","i":19.2,"v":148.101},{"b":"B","i":22.1,"v":148.025},{"b":"B","i":37.6,"v":148.025},{"b":"B","i":40.1,"v":148.089},{"b":"B","i":42.6,"v":148.179},{"b":"B","i":45.9,"v":148.279},{"b":"B","i":49.3,"v":148.368},{"b":"B","i":53.5,"v":148.446},{"b":"B","i":57.6,"v":148.490},{"b":"B","i":61.8,"v":148.551},{"b":"B","i":65.2,"v":148.555},{"b":"B","i":68.5,"v":148.568},{"b":"B","i":71.8,"v":148.596},{"b":"B","i":74.4,"v":148.615},{"b":"B","i":81.2,"v":148.676},{"b":"B","i":86.2,"v":148.744},{"b":"B","i":89.5,"v":148.793},{"b":"B","i":93.7,"v":148.836},{"b":"B","i":97.9,"v":148.866},{"b":"B","i":102.0,"v":148.875},{"b":"B","i":106.2,"v":148.888},{"b":"B","i":109.5,"v":148.904},{"b":"B","i":112.0,"v":148.919},{"b":"B","i":115.4,"v":148.963},{"b":"B","i":118.7,"v":148.997},{"b":"B","i":120.8,"v":149.018},{"b":"B","i":134.5,"v":149.018},{"b":"B","i":137.0,"v":148.977},{"b":"B","i":139.5,"v":148.929},{"b":"B","i":142.0,"v":148.861},{"b":"B","i":145.4,"v":148.793},{"b":"B","i":150.4,"v":148.715},{"b":"B","i":154.5,"v":148.677},{"b":"B","i":157,"v":148.657},{"b":"B","i":159.5,"v":148.652},{"b":"B","i":172,"v":148.652},{"b":"B","i":173.7,"v":148.667},{"b":"B","i":176.2,"v":148.696},{"b":"B","i":179.5,"v":148.711},{"b":"B","i":182.8,"v":148.725},{"b":"B","i":184.9,"v":148.745},{"b":"B","i":187.8,"v":148.764},{"b":"B","i":191.2,"v":148.793},{"b":"B","i":194.5,"v":148.812},{"b":"B","i":197.8,"v":148.824},{"b":"B","i":201.2,"v":148.827},{"b":"B","i":204.5,"v":148.837},{"b":"B","i":212.8,"v":148.839},{"b":"B","i":217.8,"v":148.820},{"b":"B","i":220.3,"v":148.812},{"b":"B","i":222,"v":148.764},{"b":"B","i":223.7,"v":148.706},{"b":"B","i":225.3,"v":148.667},{"b":"B","i":237.4,"v":148.492},{"b":"B","i":240.3,"v":148.444},{"b":"B","i":243.25,"v":148.366},{"b":"B","i":246.2,"v":148.298},{"b":"B","i":249.5,"v":148.230},{"b":"B","i":252,"v":148.182},{"b":"B","i":254.9,"v":148.143},{"b":"B","i":258.7,"v":148.109},{"b":"B","i":262,"v":148.090},{"b":"B","i":266.2,"v":148.083},{"b":"B","i":287.8,"v":148.083},{"b":"B","i":292.4,"v":148.056},{"b":"B","i":297.4,"v":148.041},{"b":"B","i":299.5,"v":148.007},{"b":"B","i":301.6,"v":147.940},{"b":"B","i":304.1,"v":147.833},{"b":"B","i":306.6,"v":147.746},{"b":"B","i":309.1,"v":147.678},{"b":"B","i":311.6,"v":147.600},{"b":"B","i":314.1,"v":147.513},{"b":"B","i":316.6,"v":147.416},{"b":"B","i":319.1,"v":147.338},{"b":"B","i":321.6,"v":147.280},{"b":"B","i":324.1,"v":147.246},{"b":"B","i":339.9,"v":147.246},{"b":"B","i":343.25,"v":147.261},{"b":"B","i":346.6,"v":147.290},{"b":"B","i":349.9,"v":147.338},{"b":"B","i":353.25,"v":147.377},{"b":"B","i":356.6,"v":147.416},{"b":"B","i":359.9,"v":147.445},{"b":"B","i":362.8,"v":147.445},
{"b":"C","i":0,"v":148.301},{"b":"C","i":2.5,"v":148.245},{"b":"C","i":5,"v":148.179},{"b":"C","i":7.5,"v":148.112},{"b":"C","i":10,"v":148.045},{"b":"C","i":12.5,"v":148.000},{"b":"C","i":15.5,"v":147.956},{"b":"C","i":16.7,"v":147.948},{"b":"C","i":42.6,"v":147.948},{"b":"C","i":45.9,"v":147.978},{"b":"C","i":49.3,"v":148.045},{"b":"C","i":52.6,"v":148.156},{"b":"C","i":56,"v":148.268},{"b":"C","i":59.3,"v":148.346},{"b":"C","i":62.7,"v":148.412},{"b":"C","i":66,"v":148.457},{"b":"C","i":69.3,"v":148.496},{"b":"C","i":72.7,"v":148.540},{"b":"C","i":74.4,"v":148.551},{"b":"C","i":77.9,"v":148.560},{"b":"C","i":81.2,"v":148.580},{"b":"C","i":86.2,"v":148.623},{"b":"C","i":89.5,"v":148.657},{"b":"C","i":92.9,"v":148.706},{"b":"C","i":96.2,"v":148.744},{"b":"C","i":99.5,"v":148.783},{"b":"C","i":102.9,"v":148.822},{"b":"C","i":106.2,"v":148.851},{"b":"C","i":108.7,"v":148.861},{"b":"C","i":112.9,"v":148.868},{"b":"C","i":115.4,"v":148.871},{"b":"C","i":117.0,"v":148.880},{"b":"C","i":119.5,"v":148.895},{"b":"C","i":122.0,"v":148.919},{"b":"C","i":123.7,"v":148.931},{"b":"C","i":127.0,"v":148.929},{"b":"C","i":129.5,"v":148.890},{"b":"C","i":132.9,"v":148.822},{"b":"C","i":136.2,"v":148.764},{"b":"C","i":139.5,"v":148.715},{"b":"C","i":142.9,"v":148.676},{"b":"C","i":146.2,"v":148.657},{"b":"C","i":150.4,"v":148.652},{"b":"C","i":152,"v":148.628},{"b":"C","i":178.25,"v":148.628},{"b":"C","i":180.3,"v":148.638},{"b":"C","i":182.8,"v":148.657},{"b":"C","i":185.3,"v":148.677},{"b":"C","i":187.8,"v":148.696},{"b":"C","i":190.3,"v":148.711},{"b":"C","i":192.8,"v":148.715},{"b":"C","i":195.3,"v":148.730},{"b":"C","i":197.8,"v":148.745},{"b":"C","i":201.2,"v":148.774},{"b":"C","i":204.5,"v":148.803},{"b":"C","i":206.2,"v":148.810},{"b":"C","i":207.8,"v":148.810},{"b":"C","i":209.5,"v":148.783},{"b":"C","i":212,"v":148.725},{"b":"C","i":214.5,"v":148.657},{"b":"C","i":217,"v":148.599},{"b":"C","i":219.5,"v":148.570},{"b":"C","i":222.8,"v":148.541},{"b":"C","i":225.3,"v":148.512},{"b":"C","i":226.2,"v":148.492},{"b":"C","i":229.5,"v":148.434},{"b":"C","i":232.8,"v":148.366},{"b":"C","i":236.2,"v":148.298},{"b":"C","i":239.5,"v":148.230},{"b":"C","i":242.8,"v":148.172},{"b":"C","i":246.2,"v":148.119},{"b":"C","i":249.5,"v":148.085},{"b":"C","i":252.4,"v":148.073},{"b":"C","i":277.8,"v":148.070},{"b":"C","i":280.3,"v":148.046},{"b":"C","i":284.1,"v":148.041},{"b":"C","i":286.6,"v":148.017},{"b":"C","i":288.25,"v":147.988},{"b":"C","i":289.9,"v":147.949},{"b":"C","i":292.4,"v":147.862},{"b":"C","i":294.9,"v":147.755},{"b":"C","i":297.4,"v":147.648},{"b":"C","i":299.9,"v":147.552},{"b":"C","i":302.4,"v":147.464},{"b":"C","i":304.9,"v":147.396},{"b":"C","i":307.4,"v":147.328},{"b":"C","i":309.9,"v":147.280},{"b":"C","i":312.4,"v":147.241},{"b":"C","i":314.9,"v":147.212},{"b":"C","i":317.4,"v":147.201},{"b":"C","i":342.4,"v":147.201},{"b":"C","i":344.9,"v":147.212},{"b":"C","i":348.25,"v":147.231},{"b":"C","i":351.6,"v":147.251},{"b":"C","i":354.9,"v":147.265},{"b":"C","i":357.4,"v":147.290},{"b":"C","i":359.9,"v":147.319},{"b":"C","i":362.4,"v":147.377},{"b":"C","i":363.25,"v":147.396}
],
"info":[
{"label":"Bar Left","value":"[ 06:58 ]"},
{"label":"* Sydney","value":"02:08 PM"},
{"label":"* Tokyo","value":"01:08 PM"},
{"label":"Berlin","value":"06:08 AM"},
{"label":"London","value":"05:08 AM"},
{"label":"New York","value":"12:08 AM"},
{"label":"","value":"ATR (20): 19 pips"}
]
},
"layer":[
{"data":{"name":"bands"},
 "mark":{"type":"line","strokeWidth":1,"color":"#6e6e6e"},
 "encoding":{
  "x":{"field":"i","type":"quantitative","scale":{"domain":[-0.375,467.375],"nice":false,"zero":false},
   "axis":{"orient":"bottom","values":[0,16,32,48,64,80,96,112,128,144,160,176,192,208,224,240,256,272,288,304,320,336,352],
    "labelExpr":"['13 Jul 2018','13 Jul 16:15','13 Jul 20:15','16 Jul 00:15','16 Jul 04:15','16 Jul 08:15','16 Jul 12:15','16 Jul 16:15','16 Jul 20:15','17 Jul 00:15','17 Jul 04:15','17 Jul 08:15','17 Jul 12:15','17 Jul 16:15','17 Jul 20:15','18 Jul 00:15','18 Jul 04:15','18 Jul 08:15','18 Jul 12:15','18 Jul 16:15','18 Jul 20:15','19 Jul 00:15','19 Jul 04:15'][round(datum.value/16)]",
    "tickSize":4,"labelPadding":1,"labelAlign":"left","labelBaseline":"top","labelFlush":false,"labelOverlap":false,"labelBound":false,"title":null,"domain":false,"grid":false}},
  "y":{"field":"v","type":"quantitative","scale":{"domain":[146.7992,149.4525],"nice":false,"zero":false},
   "axis":{"orient":"right","values":[149.435,149.340,149.240,149.145,149.045,148.950,148.850,148.755,148.655,148.560,148.465,148.365,148.270,148.170,148.075,147.975,147.880,147.780,147.685,147.590,147.490,147.295,147.200,147.100,147.005,146.905,146.810],
    "format":".3f","tickSize":3,"labelPadding":3,"labelAlign":"left","labelBaseline":"middle","labelOverlap":false,"labelBound":false,"labelFlush":false,"title":null,"domain":false,"grid":false}},
  "detail":{"field":"b","type":"nominal"},
  "strokeDash":{"field":"b","type":"nominal","scale":{"domain":["A","B","C"],"range":[[1,0],[3,3],[1,0]]},"legend":null}
 }},
{"data":{"values":[{}]},
 "mark":{"type":"rule","color":"#bcbcbc","strokeWidth":1},
 "encoding":{"y":{"datum":147.399,"type":"quantitative","axis":null}}},
{"data":{"name":"candles"},
 "mark":{"type":"rule","color":"#2c5a0e","strokeWidth":1},
 "encoding":{"x":{"field":"i","type":"quantitative","axis":null},"y":{"field":"l","type":"quantitative","axis":null},"y2":{"field":"h"}}},
{"data":{"name":"candles"},
 "mark":{"type":"bar","size":2,"stroke":"#2c5a0e","strokeWidth":1},
 "encoding":{"x":{"field":"i","type":"quantitative","axis":null},"y":{"field":"o","type":"quantitative","axis":null},"y2":{"field":"c"},
  "fill":{"condition":{"test":"datum.c >= datum.o","value":"#46c246"},"value":"#e4725c"}}},
{"data":{"name":"ma"},
 "mark":{"type":"line","strokeWidth":3,"strokeCap":"round"},
 "encoding":{"x":{"field":"i","type":"quantitative","axis":null},"y":{"field":"v","type":"quantitative","axis":null},
  "detail":{"field":"s","type":"nominal"},
  "color":{"field":"d","type":"nominal","scale":{"domain":["dn","up"],"range":["#ff0000","#32cd32"]},"legend":null}}},
{"data":{"values":[{}]},
 "mark":{"type":"point","shape":"triangle-down","filled":true,"color":"#000000","size":28,"opacity":1},
 "encoding":{"x":{"datum":1.55,"type":"quantitative","axis":null},"y":{"datum":149.4205,"type":"quantitative","axis":null}}},
{"data":{"values":[{"t":"GBPJPY,M15"}]},
 "mark":{"type":"text","align":"left","baseline":"middle","font":"Liberation Sans","fontSize":9,"color":"#000000"},
 "encoding":{"x":{"datum":3.75,"type":"quantitative","axis":null},"y":{"datum":149.4205,"type":"quantitative","axis":null},"text":{"field":"t"}}},
{"data":{"values":[{"t":"2.1"}]},
 "mark":{"type":"text","align":"right","baseline":"alphabetic","font":"Liberation Sans","fontSize":29,"fontWeight":"bold","color":"#8a8a8a"},
 "encoding":{"x":{"datum":465.9,"type":"quantitative","axis":null},"y":{"datum":149.3652,"type":"quantitative","axis":null},"text":{"field":"t"}}},
{"data":{"name":"info"},"transform":[{"filter":"datum.label == 'Bar Left'"}],
 "mark":{"type":"text","align":"right","baseline":"middle","font":"Liberation Sans","fontSize":9,"color":"#8c8c8c"},
 "encoding":{"x":{"datum":450.4,"type":"quantitative","axis":null},"y":{"datum":149.3382,"type":"quantitative","axis":null},"text":{"field":"label"}}},
{"data":{"name":"info"},"transform":[{"filter":"datum.label == 'Bar Left'"}],
 "mark":{"type":"text","align":"right","baseline":"middle","font":"Liberation Sans","fontSize":9,"color":"#8c8c8c"},
 "encoding":{"x":{"datum":465.9,"type":"quantitative","axis":null},"y":{"datum":149.3382,"type":"quantitative","axis":null},"text":{"field":"value"}}},
{"data":{"name":"info"},"transform":[{"filter":"datum.label == '* Sydney'"}],
 "mark":{"type":"text","align":"right","baseline":"middle","font":"Liberation Sans","fontSize":9,"color":"#ff0000"},
 "encoding":{"x":{"datum":450.4,"type":"quantitative","axis":null},"y":{"datum":149.3062,"type":"quantitative","axis":null},"text":{"field":"label"}}},
{"data":{"name":"info"},"transform":[{"filter":"datum.label == '* Sydney'"}],
 "mark":{"type":"text","align":"right","baseline":"middle","font":"Liberation Sans","fontSize":9,"color":"#ff0000"},
 "encoding":{"x":{"datum":465.9,"type":"quantitative","axis":null},"y":{"datum":149.3062,"type":"quantitative","axis":null},"text":{"field":"value"}}},
{"data":{"name":"info"},"transform":[{"filter":"datum.label == '* Tokyo'"}],
 "mark":{"type":"text","align":"right","baseline":"middle","font":"Liberation Sans","fontSize":9,"color":"#ff0000"},
 "encoding":{"x":{"datum":450.4,"type":"quantitative","axis":null},"y":{"datum":149.2750,"type":"quantitative","axis":null},"text":{"field":"label"}}},
{"data":{"name":"info"},"transform":[{"filter":"datum.label == '* Tokyo'"}],
 "mark":{"type":"text","align":"right","baseline":"middle","font":"Liberation Sans","fontSize":9,"color":"#ff0000"},
 "encoding":{"x":{"datum":465.9,"type":"quantitative","axis":null},"y":{"datum":149.2750,"type":"quantitative","axis":null},"text":{"field":"value"}}},
{"data":{"name":"info"},"transform":[{"filter":"datum.label == 'Berlin'"}],
 "mark":{"type":"text","align":"right","baseline":"middle","font":"Liberation Sans","fontSize":9,"color":"#8c8c8c"},
 "encoding":{"x":{"datum":450.4,"type":"quantitative","axis":null},"y":{"datum":149.2430,"type":"quantitative","axis":null},"text":{"field":"label"}}},
{"data":{"name":"info"},"transform":[{"filter":"datum.label == 'Berlin'"}],
 "mark":{"type":"text","align":"right","baseline":"middle","font":"Liberation Sans","fontSize":9,"color":"#8c8c8c"},
 "encoding":{"x":{"datum":465.9,"type":"quantitative","axis":null},"y":{"datum":149.2430,"type":"quantitative","axis":null},"text":{"field":"value"}}},
{"data":{"name":"info"},"transform":[{"filter":"datum.label == 'London'"}],
 "mark":{"type":"text","align":"right","baseline":"middle","font":"Liberation Sans","fontSize":9,"color":"#8c8c8c"},
 "encoding":{"x":{"datum":450.4,"type":"quantitative","axis":null},"y":{"datum":149.2119,"type":"quantitative","axis":null},"text":{"field":"label"}}},
{"data":{"name":"info"},"transform":[{"filter":"datum.label == 'London'"}],
 "mark":{"type":"text","align":"right","baseline":"middle","font":"Liberation Sans","fontSize":9,"color":"#8c8c8c"},
 "encoding":{"x":{"datum":465.9,"type":"quantitative","axis":null},"y":{"datum":149.2119,"type":"quantitative","axis":null},"text":{"field":"value"}}},
{"data":{"name":"info"},"transform":[{"filter":"datum.label == 'New York'"}],
 "mark":{"type":"text","align":"right","baseline":"middle","font":"Liberation Sans","fontSize":9,"color":"#8c8c8c"},
 "encoding":{"x":{"datum":450.4,"type":"quantitative","axis":null},"y":{"datum":149.1799,"type":"quantitative","axis":null},"text":{"field":"label"}}},
{"data":{"name":"info"},"transform":[{"filter":"datum.label == 'New York'"}],
 "mark":{"type":"text","align":"right","baseline":"middle","font":"Liberation Sans","fontSize":9,"color":"#8c8c8c"},
 "encoding":{"x":{"datum":465.9,"type":"quantitative","axis":null},"y":{"datum":149.1799,"type":"quantitative","axis":null},"text":{"field":"value"}}},
{"data":{"name":"info"},"transform":[{"filter":"datum.label == ''"}],
 "mark":{"type":"text","align":"right","baseline":"middle","font":"Liberation Sans","fontSize":9,"color":"#8c8c8c"},
 "encoding":{"x":{"datum":465.9,"type":"quantitative","axis":null},"y":{"datum":149.1470,"type":"quantitative","axis":null},"text":{"field":"value"}}},
{"data":{"values":[{}]},
 "mark":{"type":"rect","color":"#000000"},
 "encoding":{"x":{"datum":468.0,"type":"quantitative","axis":null},"x2":{"datum":478.6},"y":{"datum":147.386,"type":"quantitative","axis":null},"y2":{"datum":147.4145}}},
{"data":{"values":[{"t":"147.399"}]},
 "mark":{"type":"text","align":"left","baseline":"middle","font":"Liberation Sans","fontSize":9,"color":"#ffffff"},
 "encoding":{"x":{"datum":468.9,"type":"quantitative","axis":null},"y":{"datum":147.4,"type":"quantitative","axis":null},"text":{"field":"t"}}}
]
}
